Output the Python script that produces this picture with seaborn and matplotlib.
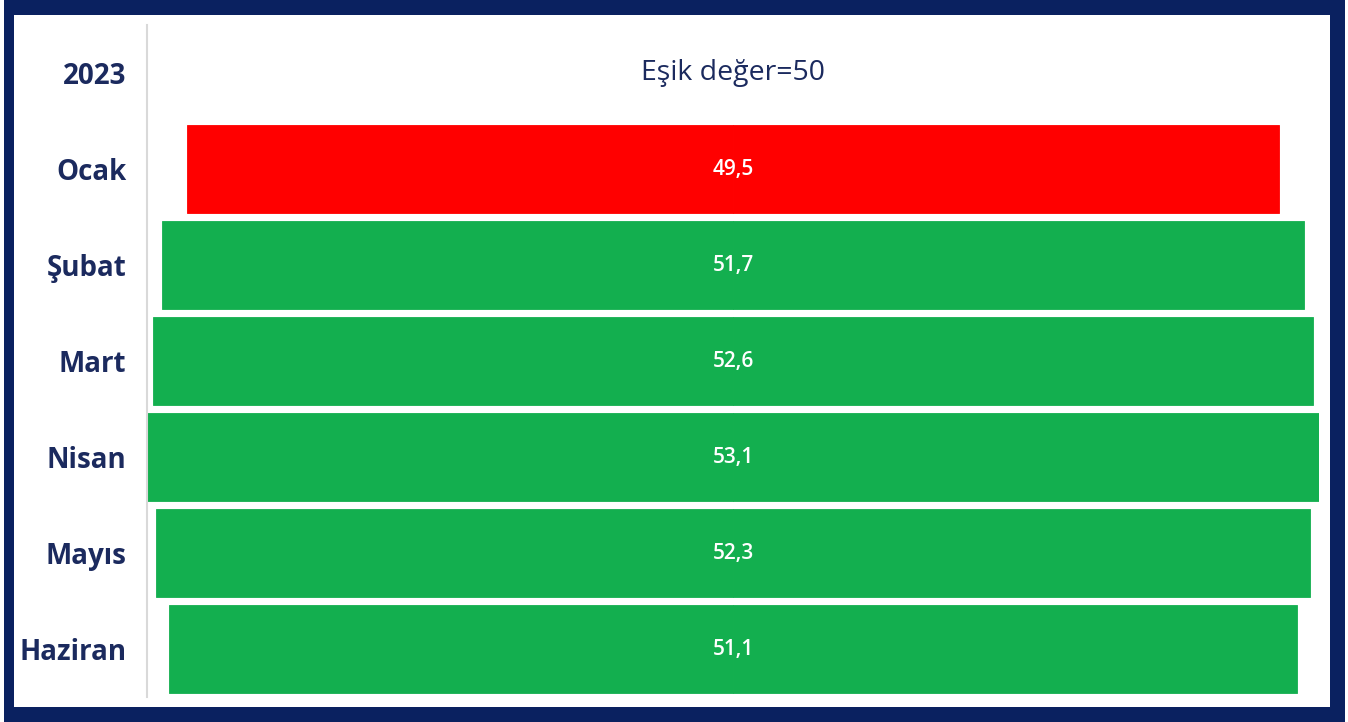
import pandas as pd
import seaborn as sns
import matplotlib.pyplot as plt
from matplotlib.patches import Rectangle

# --- data ---
year = "2023"
months = ["Ocak", "Şubat", "Mart", "Nisan", "Mayıs", "Haziran"]
values = [49.5, 51.7, 52.6, 53.1, 52.3, 51.1]
threshold = 50

NAVY = "#1B2A5E"
BORDER = "#0A2160"
RED = "#FF0000"
GREEN = "#13AF4F"

df = pd.DataFrame({"month": months, "value": values})
df["status"] = ["below" if v < threshold else "above" for v in df["value"]]
df["half"] = df["value"] / 2
df["neg"] = -df["value"] / 2

sns.set_theme(style="white")
plt.rcParams["font.family"] = ["Open Sans", "DejaVu Sans"]

W, H = 1348, 722
fig = plt.figure(figsize=(W / 100, H / 100), dpi=100)
fig.patch.set_facecolor("white")

# navy frame around the slide
fig.add_artist(Rectangle((4 / W, 0), 1341 / W, 1, transform=fig.transFigure,
                         facecolor=BORDER, edgecolor="none", zorder=-2))
fig.add_artist(Rectangle((14 / W, 15 / H), 1316 / W, 692 / H, transform=fig.transFigure,
                         facecolor="white", edgecolor="none", zorder=-1))

ax = fig.add_axes([147 / W, 1 - 697 / H, 1172 / W, 672 / H])
ax.set_facecolor("none")

order = [year] + months
pal = {"below": RED, "above": GREEN}
# funnel: each bar drawn as two halves around zero
for col in ["half", "neg"]:
    sns.barplot(data=df, x=col, y="month", hue="status", palette=pal, order=order,
                orient="h", dodge=False, width=0.925, saturation=1, legend=False,
                errorbar=None, ax=ax)
for p in ax.patches:
    p.set_edgecolor(p.get_facecolor())
    p.set_linewidth(0.6)

lim = max(values) / 2
ax.set_xlim(-lim, lim)
ax.set_ylim(len(order) - 0.5, -0.5)

for m, v in zip(months, values):
    ax.text(0, order.index(m), f"{v:.1f}".replace(".", ","), ha="center", va="center",
            color="white", fontsize=15, fontweight="semibold")

ax.text(0, 0, f"Eşik değer={threshold}", ha="center", va="center", color=NAVY, fontsize=20.5)

ax.set_xlabel("")
ax.set_ylabel("")
ax.set_xticks([])
ax.tick_params(axis="y", length=0, pad=15)
for lbl in ax.get_yticklabels():
    lbl.set_fontweight("bold")
    lbl.set_fontsize(20)
    lbl.set_color(NAVY)

for s in ["top", "right", "bottom"]:
    ax.spines[s].set_visible(False)
ax.spines["left"].set_color("#D9D9D9")
ax.spines["left"].set_linewidth(1.5)

fig.savefig("out.png", dpi=100)
